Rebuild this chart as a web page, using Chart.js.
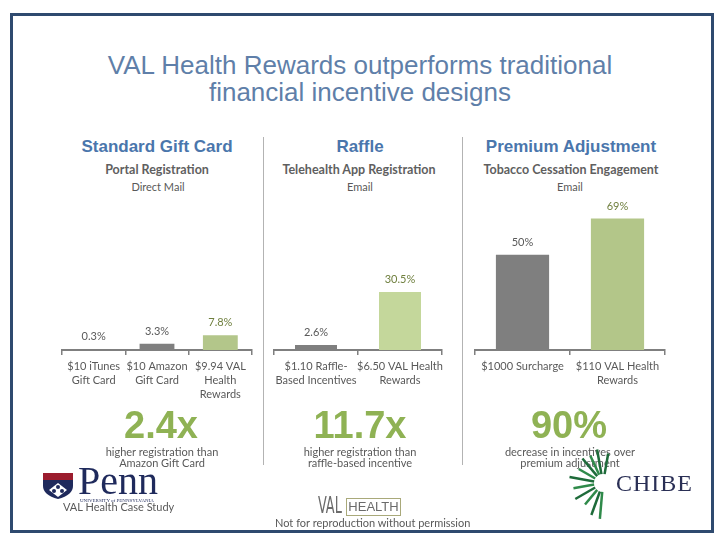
<!DOCTYPE html>
<html>
<head>
<meta charset="utf-8">
<script src="https://cdn.jsdelivr.net/npm/chart.js@4.4.1/dist/chart.umd.min.js"></script>
<style>
  body { margin:0; background:#fff; }
  #slide { position:relative; width:720px; height:540px; overflow:hidden; background:#fff; font-family:'Lato', sans-serif; }
  .frame { position:absolute; left:10px; top:13px; width:698px; height:514px; border:3px solid #2f4a6f; }
  .t { position:absolute; text-align:center; white-space:nowrap; }
  .title { left:0; width:720px; top:52px; font-family:'Liberation Sans', Arial, sans-serif; font-size:26px; line-height:27px; color:#5f7fa9; }
  .head { font-family:'Liberation Sans', Arial, sans-serif; font-weight:bold; font-size:17px; color:#4a76ac; width:250px; }
  .sub { font-weight:bold; font-size:12.5px; color:#5f5f5f; width:250px; }
  .sub2 { font-size:11px; color:#595959; width:250px; }
  .big { font-family:'Liberation Sans', Arial, sans-serif; font-weight:bold; font-size:38px; color:#8fb254; width:250px; line-height:40px; }
  .note { font-size:11px; line-height:11px; color:#595959; width:250px; }
  .sep { position:absolute; width:1px; background:#b3b3b3; top:137px; height:328px; }
  canvas { position:absolute; }
</style>
</head>
<body>
<div id="slide">
  <div class="frame"></div>
  <div class="t title">VAL Health Rewards outperforms traditional<br>financial incentive designs</div>

  <div class="sep" style="left:263px"></div>
  <div class="sep" style="left:462px"></div>

  <div class="t head" style="left:32px; top:137px">Standard Gift Card</div>
  <div class="t head" style="left:235px; top:137px">Raffle</div>
  <div class="t head" style="left:446px; top:137px">Premium Adjustment</div>

  <div class="t sub" style="left:32px; top:162px">Portal Registration</div>
  <div class="t sub" style="left:234px; top:162px">Telehealth App Registration</div>
  <div class="t sub" style="left:446px; top:162px">Tobacco Cessation Engagement</div>

  <div class="t sub2" style="left:33px; top:180px">Direct Mail</div>
  <div class="t sub2" style="left:235px; top:180px">Email</div>
  <div class="t sub2" style="left:445px; top:180px">Email</div>

  <canvas id="giftChart" style="left:50px; top:190px" width="215" height="220"></canvas>
  <canvas id="raffleChart" style="left:262px; top:190px" width="193" height="220"></canvas>
  <canvas id="premiumChart" style="left:463px; top:190px" width="215" height="220"></canvas>

  <div class="t big" style="left:36px; top:405px">2.4x</div>
  <div class="t big" style="left:235px; top:405px">11.7x</div>
  <div class="t big" style="left:444px; top:405px">90%</div>

  <div class="t note" style="left:37px; top:446px">higher registration than<br>Amazon Gift Card</div>
  <div class="t note" style="left:235px; top:446px">higher registration than<br>raffle-based incentive</div>
  <div class="t note" style="left:445px; top:446px">decrease in incentives over<br>premium adjustment</div>

  <!-- Penn logo -->
  <div style="position:absolute; left:43px; top:473px; width:30px; height:7px; background:#9b1c2e;"></div>
  <svg style="position:absolute; left:43px; top:480px" width="30" height="19">
    <path d="M0 0 H30 V6 Q30 15 15 19 Q0 15 0 6 Z" fill="#1f2a5c"/>
    <path d="M15 3 L24 10 L15 17 L6 10 Z" fill="#fff"/>
    <circle cx="15" cy="7" r="2" fill="#1f2a5c"/><circle cx="11" cy="11" r="2" fill="#1f2a5c"/><circle cx="19" cy="11" r="2" fill="#1f2a5c"/>
  </svg>
  <div class="t" style="left:78px; top:461px; font-family:'Liberation Serif', serif; font-size:40px; line-height:40px; color:#1f2a5c;">Penn</div>
  <div class="t" style="left:80px; top:498px; font-family:'Liberation Serif', serif; font-size:5px; color:#1f2a5c;">UNIVERSITY of PENNSYLVANIA</div>
  <div class="t" style="left:63px; top:500px; font-size:11px; color:#595959;">VAL Health Case Study</div>

  <!-- VAL Health logo -->
  <div class="t" style="left:318px; top:492px; font-family:'DejaVu Sans Condensed', sans-serif; font-size:23px; line-height:26px; color:#6b6b6b; transform:scaleX(0.62); transform-origin:left;">VAL</div>
  <div class="t" style="left:346px; top:498px; width:53px; height:16px; border:1px solid #a9a97a; font-family:'Liberation Sans', sans-serif; font-size:13px; line-height:16px; color:#6b6b6b;">HEALTH</div>
  <div class="t" style="left:275px; top:516px; font-size:11px; color:#595959;">Not for reproduction without permission</div>

  <!-- CHIBE logo -->
  <svg id="rays" style="position:absolute; left:560px; top:440px" width="60" height="90"></svg>
  <div class="t" style="left:616px; top:470px; font-family:'Liberation Serif', serif; font-size:24px; letter-spacing:1px; color:#2a2f55;">CHIBE</div>
</div>

<script>
// chart values
const giftLabels = [['$10 iTunes', 'Gift Card'], ['$10 Amazon', 'Gift Card'], ['$9.94 VAL', 'Health', 'Rewards']];
const giftValues = [0.3, 3.3, 7.8];
const raffleLabels = [['$1.10 Raffle-', 'Based Incentives'], ['$6.50 VAL Health', 'Rewards']];
const raffleValues = [2.6, 30.5];
const premiumLabels = [['$1000 Surcharge'], ['$110 VAL Health', 'Rewards']];
const premiumValues = [50, 69];

const gray = '#7f7f7f';
const grayText = '#595959';
const greenText = '#6f7f3e';

// draws the % text above each bar
const valueLabels = {
    id: 'valueLabels',
    afterDatasetsDraw(chart) {
        const ctx = chart.ctx;
        const ds = chart.data.datasets[0];
        chart.getDatasetMeta(0).data.forEach((bar, i) => {
            ctx.save();
            ctx.fillStyle = ds.labelColors[i];
            ctx.font = '11px Lato';
            ctx.textAlign = 'center';
            ctx.textBaseline = 'bottom';
            ctx.fillText(ds.data[i] + '%', bar.x, bar.y - 7);
            ctx.restore();
        });
    }
};

function makeChart(id, labels, values, colors, labelColors, barPct) {
    const ctx = document.getElementById(id).getContext('2d');
    return new Chart(ctx, {
        type: 'bar',
        data: {
            labels: labels,
            datasets: [{
                data: values,
                backgroundColor: colors,
                labelColors: labelColors,
                barPercentage: barPct,
                categoryPercentage: 1
            }]
        },
        options: {
            responsive: false,
            animation: false,
            events: [],
            layout: { padding: { left: 12, right: 13, top: 0, bottom: 0 } },
            plugins: { legend: { display: false }, tooltip: { enabled: false } },
            scales: {
                y: { display: false, min: 0, max: 84 },
                x: {
                    grid: { display: true, drawOnChartArea: false, drawTicks: true, tickLength: 5, color: gray, lineWidth: 1.5, offset: true },
                    border: { display: true, color: gray, width: 2 },
                    ticks: { color: grayText, font: { family: 'Lato', size: 11, lineHeight: 1.3 }, padding: 4, autoSkip: false, maxRotation: 0, minRotation: 0 },
                    afterFit: s => { s.height = 60; }
                }
            }
        },
        plugins: [valueLabels]
    });
}

makeChart('giftChart', giftLabels, giftValues, [gray, gray, '#b3c68a'], [grayText, grayText, greenText], 0.55);
makeChart('raffleChart', raffleLabels, raffleValues, [gray, '#c4d79b'], [grayText, greenText], 0.5);
makeChart('premiumChart', premiumLabels, premiumValues, [gray, '#b3c689'], [grayText, greenText], 0.56);

// CHIBE logo rays
const rays = document.getElementById('rays');
const rayAngles = [100, 115, 130, 150, 170, 190, 210, 230, 250, 265, 80];
const rayLens = [34, 30, 32, 28, 34, 30, 32, 28, 34, 36, 30];
rayAngles.forEach((a, i) => {
    const r = a * Math.PI / 180;
    const cx = 43, cy = 43;
    const l = document.createElementNS('http://www.w3.org/2000/svg', 'line');
    l.setAttribute('x1', cx + Math.cos(r) * 9);
    l.setAttribute('y1', cy - Math.sin(r) * 9);
    l.setAttribute('x2', cx + Math.cos(r) * rayLens[i]);
    l.setAttribute('y2', cy - Math.sin(r) * rayLens[i]);
    l.setAttribute('stroke', i % 2 ? '#2f8a4a' : '#1e6b3a');
    l.setAttribute('stroke-width', 2.5);
    rays.appendChild(l);
});
</script>
</body>
</html>
